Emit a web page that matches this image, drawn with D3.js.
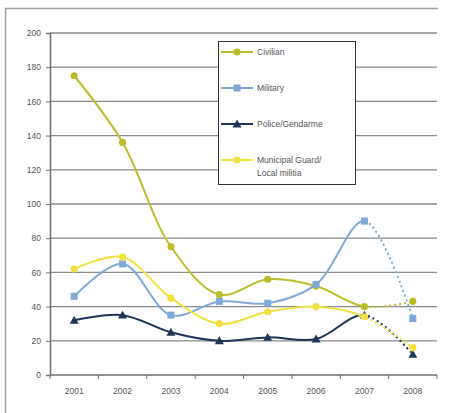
<!DOCTYPE html>
<html>
<head>
<meta charset="utf-8">
<script src="https://cdn.jsdelivr.net/npm/d3@7"></script>
<style>
  html, body { margin: 0; padding: 0; background: #fff; }
  svg { display: block; }
  text { font-family: "Liberation Sans", Arial, sans-serif; }
</style>
</head>
<body>
<svg id="chart" width="451" height="413"></svg>
<script>
// Casualties by year and category
const years = ["2001", "2002", "2003", "2004", "2005", "2006", "2007", "2008"];
const civilian  = [175, 136, 75, 47, 56, 52, 40, 43];
const military  = [46, 65, 35, 43, 42, 53, 90, 33];
const police    = [32, 35, 25, 20, 22, 21, 35, 12];
const municipal = [62, 69, 45, 30, 37, 40, 34, 16];
const yTicks = [0, 20, 40, 60, 80, 100, 120, 140, 160, 180, 200];

const series = [
  { name: ["Civilian"], values: civilian, color: "#bdbd2c", marker: "circle" },
  { name: ["Military"], values: military, color: "#7ea8d6", marker: "square" },
  { name: ["Police/Gendarme"], values: police, color: "#1d3557", marker: "triangle" },
  { name: ["Municipal Guard/", "Local militia"], values: municipal, color: "#f2e040", marker: "circle" }
];

const svg = d3.select("#chart");

// outer frame
svg.append("path")
  .attr("d", "M5.5,413 L5.5,8.5 L438,8.5")
  .attr("fill", "none").attr("stroke", "#a0a0a0").attr("stroke-width", 1.5);

const plot = { left: 50, right: 437, top: 33, bottom: 375 };

const x = d3.scaleBand().domain(years).range([plot.left, plot.right]);
const y = d3.scaleLinear().domain([0, 200]).range([plot.bottom, plot.top]);
const cx = d => x(d) + x.bandwidth() / 2;

// horizontal gridlines
svg.append("g").selectAll("line").data(yTicks.filter(t => t > 0)).join("line")
  .attr("x1", plot.left).attr("x2", plot.right)
  .attr("y1", d => y(d)).attr("y2", d => y(d))
  .attr("stroke", "#8a8a8a").attr("stroke-width", 1.3);

// y axis
const yAxis = svg.append("g").attr("transform", `translate(${plot.left},0)`)
  .call(d3.axisLeft(y).tickValues(yTicks).tickSize(4).tickPadding(5));
yAxis.select(".domain").attr("stroke", "#707070").attr("stroke-width", 1.5);
yAxis.selectAll(".tick line").attr("stroke", "#707070");
yAxis.selectAll(".tick text").attr("fill", "#555").style("font-size", "8.5px")
  .style("font-family", "'Liberation Sans', Arial, sans-serif");

// x axis with ticks at category boundaries
const xAxisG = svg.append("g").attr("transform", `translate(0,${plot.bottom})`);
xAxisG.append("line").attr("x1", plot.left).attr("x2", plot.right)
  .attr("stroke", "#707070").attr("stroke-width", 1.5);
const bounds = years.map(d => x(d)).concat([plot.right]);
xAxisG.selectAll("line.tk").data(bounds).join("line").attr("class", "tk")
  .attr("x1", d => d).attr("x2", d => d).attr("y1", 0).attr("y2", 4)
  .attr("stroke", "#707070");
xAxisG.selectAll("text").data(years).join("text")
  .attr("x", d => cx(d)).attr("y", 19)
  .attr("text-anchor", "middle").attr("fill", "#555").style("font-size", "8.5px")
  .text(d => d);

// clip regions: solid through 2007, dashed afterwards
const split = cx("2007");
const defs = svg.append("defs");
defs.append("clipPath").attr("id", "clipSolid").append("rect")
  .attr("x", 0).attr("y", 0).attr("width", split).attr("height", 413);
defs.append("clipPath").attr("id", "clipDash").append("rect")
  .attr("x", split).attr("y", 0).attr("width", 451 - split).attr("height", 413);

const line = d3.line()
  .x((d, i) => cx(years[i]))
  .y(d => y(d))
  .curve(d3.curveCatmullRom.alpha(0.5));

function drawMarker(g, type, px, py, color) {
  if (type === "circle") {
    g.append("circle").attr("cx", px).attr("cy", py).attr("r", 3.6).attr("fill", color);
  } else if (type === "square") {
    g.append("rect").attr("x", px - 3.5).attr("y", py - 3.5).attr("width", 7).attr("height", 7)
      .attr("fill", color);
  } else {
    const s = 4.5;
    g.append("path").attr("d", `M${px},${py - s} L${px + s},${py + s * 0.75} L${px - s},${py + s * 0.75} Z`)
      .attr("fill", color);
  }
}

const linesG = svg.append("g");
series.forEach(s => {
  const g = linesG.append("g");
  g.append("path").datum(s.values).attr("d", line)
    .attr("fill", "none").attr("stroke", s.color).attr("stroke-width", 2)
    .attr("clip-path", "url(#clipSolid)");
  g.append("path").datum(s.values).attr("d", line)
    .attr("fill", "none").attr("stroke", s.color).attr("stroke-width", 2)
    .attr("stroke-dasharray", "2,3")
    .attr("clip-path", "url(#clipDash)");
  s.values.forEach((v, i) => drawMarker(g, s.marker, cx(years[i]), y(v), s.color));
});

// legend
const lg = svg.append("g");
lg.append("rect").attr("x", 218.5).attr("y", 41.5).attr("width", 137).attr("height", 143)
  .attr("fill", "#fff").attr("stroke", "#333").attr("stroke-width", 1);
const legendY = [52, 88, 124, 160];
series.forEach((s, i) => {
  const ly = legendY[i];
  lg.append("line").attr("x1", 221).attr("x2", 253).attr("y1", ly).attr("y2", ly)
    .attr("stroke", s.color).attr("stroke-width", 2);
  drawMarker(lg, s.marker, 237, ly, s.color);
  s.name.forEach((t, k) => {
    lg.append("text").attr("x", 257).attr("y", ly + 3 + k * 13)
      .attr("fill", "#555").style("font-size", "8.5px").text(t);
  });
});
</script>
</body>
</html>
